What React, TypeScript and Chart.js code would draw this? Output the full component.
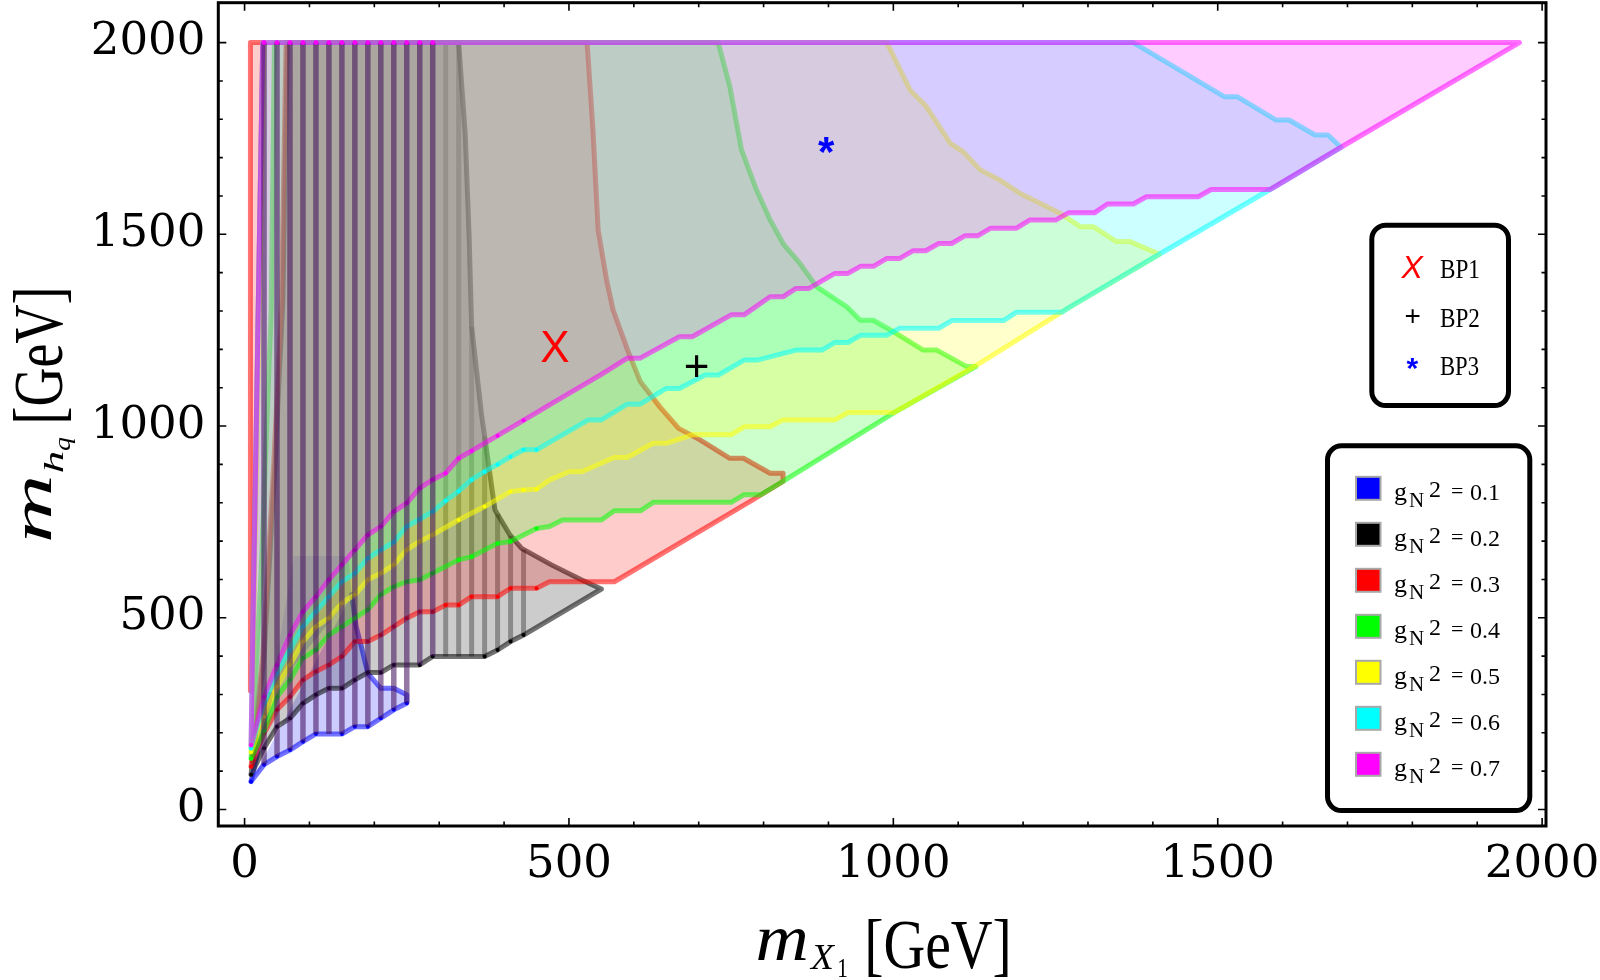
import React, { useEffect, useRef } from 'react';
import { Chart, registerables } from 'chart.js';

Chart.register(...registerables);

// ---------------- axes ----------------
const X_MIN = -40.5;
const X_MAX = 2006;
const Y_MIN = -43;
const Y_MAX = 2104;
const X_TICKS = [0, 500, 1000, 1500, 2000];
const Y_TICKS = [0, 500, 1000, 1500, 2000];
const MINOR_TICKS = [100, 200, 300, 400, 600, 700, 800, 900, 1100, 1200, 1300, 1400, 1600, 1700, 1800, 1900];

// ---------------- series meta ----------------
const G_LABELS = ['0.1', '0.2', '0.3', '0.4', '0.5', '0.6', '0.7'];
const G_RGB = ['0,0,255', '0,0,0', '255,0,0', '0,255,0', '255,255,0', '0,255,255', '255,0,255'];

// kinematic edge (m_hq ~ m_X1)
const DIAGONAL = [[250, 276], [430, 455], [550, 575], [570, 594], [782, 806], [830, 856], [1000, 1034], [1130, 1160], [1270, 1308], [1410, 1448], [1590, 1626], [1690, 1727], [1965, 2000]];

// g_N^2 = 0.1 (blue)
const BLUE_LOWER = [[10, 73], [30, 117], [50, 138], [70, 155], [90, 177], [110, 197], [150, 197], [170, 216], [190, 216], [210, 238], [230, 260], [250, 277]];
const BLUE_UPPER = [[160, 661], [165, 560], [172, 477], [180, 425], [190, 355], [210, 316], [230, 316], [250, 299]];
const BLUE_LEFT = [[76, 661], [40, 300], [10, 73]];

// g_N^2 = 0.2 (black)
const BLACK_LOWER = [[10, 91], [30, 160], [50, 216], [70, 238], [90, 277], [110, 299], [130, 316], [150, 316], [170, 338], [190, 357], [210, 357], [230, 377], [270, 377], [290, 399], [370, 399], [390, 416], [410, 438], [430, 455]];
const BLACK_UPPER = [[330, 2000], [340, 1763], [346, 1500], [350, 1259], [365, 1033], [386, 781], [409, 716], [427, 681], [473, 638], [519, 599], [550, 575]];
const BLACK_LEFT = [[66, 2000], [59, 1330], [47, 900], [30, 400], [10, 91]];

// g_N^2 = 0.3 (red)
const RED_LOWER = [[10, 112], [30, 199], [50, 260], [70, 294], [90, 338], [110, 360], [130, 377], [150, 399], [170, 438], [190, 438], [210, 455], [230, 477], [250, 499], [270, 516], [290, 516], [310, 533], [330, 533], [350, 555], [390, 555], [410, 577], [450, 577], [470, 594], [570, 594]];
const RED_UPPER = [[528, 2000], [537, 1772], [545, 1511], [558, 1381], [568, 1303], [590, 1200], [610, 1116], [640, 1050], [669, 994], [702, 964], [748, 916], [769, 916], [810, 877], [830, 877], [830, 856]];
const RED_LEFT = [[64, 2000], [57, 1330], [45, 900], [28, 400], [10, 112]];
const RED_SLIVER = [[9, 310], [9, 2000], [28, 2000], [21, 1300], [12, 310]];

// g_N^2 = 0.4 (green)
const GREEN_LOWER = [[10, 133], [30, 204], [50, 294], [70, 338], [90, 395], [110, 416], [130, 455], [150, 477], [170, 499], [190, 521], [210, 560], [230, 581], [250, 594], [270, 599], [290, 616], [330, 651], [350, 659], [390, 694], [410, 699], [450, 733], [470, 738], [490, 755], [550, 755], [570, 779], [610, 779], [630, 801], [750, 801], [770, 821], [796, 821]];
const GREEN_UPPER = [[730, 2000], [748, 1885], [766, 1720], [789, 1616], [810, 1538], [830, 1476], [856, 1424], [882, 1363], [928, 1311], [949, 1276], [969, 1276], [1000, 1246], [1046, 1198], [1067, 1198], [1113, 1155], [1127, 1155]];
const GREEN_LEFT = [[46, 2000], [41, 1300], [25, 600], [10, 133]];

// g_N^2 = 0.5 (yellow)
const YELLOW_LOWER = [[10, 150], [30, 242], [50, 321], [70, 377], [90, 438], [110, 477], [130, 499], [150, 538], [170, 560], [190, 599], [210, 616], [230, 638], [250, 677], [270, 699], [290, 716], [330, 755], [370, 790], [410, 829], [430, 833], [450, 835], [470, 859], [500, 881], [520, 881], [570, 918], [590, 918], [630, 955], [650, 955], [690, 977], [750, 977], [770, 998], [810, 998], [830, 1016], [910, 1016], [930, 1035], [1001, 1035]];
const YELLOW_UPPER = [[990, 2000], [1026, 1876], [1051, 1833], [1088, 1737], [1108, 1715], [1134, 1668], [1164, 1642], [1195, 1607], [1257, 1555], [1288, 1520], [1308, 1520], [1344, 1481], [1365, 1481], [1410, 1448]];
const YELLOW_LEFT = [[30, 2000], [23, 1300], [13, 400], [10, 150]];

// g_N^2 = 0.6 (cyan)
const CYAN_LOWER = [[10, 160], [30, 277], [50, 356], [70, 416], [90, 477], [110, 516], [130, 555], [150, 594], [170, 616], [190, 655], [210, 677], [230, 697], [250, 738], [270, 757], [290, 777], [310, 805], [330, 830], [350, 860], [370, 881], [390, 900], [410, 920], [430, 938], [450, 938], [530, 1016], [550, 1016], [590, 1057], [610, 1057], [650, 1098], [670, 1098], [710, 1133], [730, 1133], [770, 1172], [790, 1172], [850, 1198], [890, 1198], [910, 1218], [930, 1218], [950, 1237], [990, 1237], [1010, 1255], [1070, 1255], [1090, 1275], [1170, 1275], [1190, 1297], [1260, 1297]];
const CYAN_UPPER = [[1370, 2000], [1510, 1859], [1530, 1859], [1590, 1798], [1610, 1798], [1650, 1759], [1670, 1759], [1690, 1727]];
const CYAN_LEFT = [[28, 2000], [21, 1300], [12, 400], [10, 160]];

// g_N^2 = 0.7 (magenta)
const MAGENTA_LOWER = [[10, 168], [30, 294], [50, 377], [70, 455], [90, 516], [110, 555], [130, 599], [150, 638], [170, 677], [190, 716], [210, 738], [230, 777], [250, 799], [270, 838], [290, 860], [310, 877], [330, 916], [350, 935], [390, 975], [430, 1015], [470, 1055], [510, 1095], [550, 1135], [590, 1177], [610, 1177], [670, 1233], [690, 1233], [750, 1290], [770, 1290], [810, 1337], [830, 1337], [850, 1359], [870, 1359], [910, 1398], [930, 1398], [950, 1417], [970, 1417], [990, 1437], [1010, 1437], [1030, 1457], [1050, 1457], [1070, 1476], [1090, 1476], [1110, 1496], [1130, 1496], [1150, 1516], [1190, 1516], [1210, 1537], [1250, 1537], [1270, 1556], [1310, 1556], [1330, 1579], [1370, 1579], [1390, 1598], [1470, 1598], [1490, 1617], [1581, 1617]];
const MAGENTA_UPPER = [[1965, 2000]];
const MAGENTA_LEFT = [[28, 2000], [21, 1300], [12, 400], [10, 168]];

// vertical mesh lines
const PURPLE_MESH_X = [30, 50, 70, 90, 110, 130, 150, 170, 190, 210, 230, 250, 270, 290];
const PURPLE_MESH_LOW = [117, 138, 155, 177, 197, 197, 197, 216, 216, 238, 260, 277, 377, 399];
const GRAY_MESH_X = [310, 330, 350, 370, 390, 410, 430];
const GRAY_MESH_LOW = [399, 399, 399, 399, 416, 438, 455];
const GRAY_MESH_HIGH = [2000, 2000, 1259, 973, 770, 714, 678];

// benchmark points
const BP_LABELS = ['BP1', 'BP2', 'BP3'];
const BP_X = [478, 697, 897];
const BP_Y = [1207, 1157, 1733];
const BP_GLYPHS = ['X', '+', '*'];
const BP_COLORS = ['#ff0000', '#000000', '#0000ff'];

type Pt = { x: number; y: number | null; d?: number };

function buildPolygon(lower: number[][], upper: number[][], left: number[][]): Pt[] {
  const endX = lower[lower.length - 1][0];
  const upEndX = upper[upper.length - 1][0];
  const diag = DIAGONAL.filter(([x]) => x > endX && x < upEndX);
  const pts: Pt[] = [
    ...lower.map(([x, y]) => ({ x, y, d: x <= 450 ? 1 : 0 })),
    ...diag.map(([x, y]) => ({ x, y })),
    ...upper.slice().reverse().map(([x, y]) => ({ x, y })),
    ...left.map(([x, y]) => ({ x, y })),
  ];
  pts.push({ x: pts[0].x, y: pts[0].y });
  return pts;
}

function regionDataset(pts: Pt[], rgb: string) {
  return {
    type: 'line',
    data: pts,
    fill: 'shape',
    backgroundColor: `rgba(${rgb},0.2)`,
    borderColor: `rgba(${rgb},0.55)`,
    borderWidth: 5,
    borderJoinStyle: 'round',
    borderCapStyle: 'round',
    tension: 0,
    pointRadius: (c: any) => (c.raw && c.raw.d ? 2 : 0),
    pointBackgroundColor: `rgb(${rgb})`,
    pointBorderWidth: 0,
  };
}

function meshData(xs: number[], lows: number[], highs: number[] | null): Pt[] {
  const out: Pt[] = [];
  xs.forEach((x, i) => {
    out.push({ x, y: lows[i] });
    out.push({ x, y: highs ? highs[i] : 2000, d: highs ? 0 : 1 });
    out.push({ x, y: null });
  });
  return out;
}

// ---------------- text helpers ----------------
function fitText(ctx: CanvasRenderingContext2D, text: string, font: string, color: string,
  x: number, base: number, w: number, asc: number, ref: string, rotate = false) {
  ctx.save();
  ctx.font = font;
  ctx.textAlign = 'left';
  ctx.textBaseline = 'alphabetic';
  const m = ctx.measureText(text);
  const inkW = m.actualBoundingBoxLeft + m.actualBoundingBoxRight;
  const a = ctx.measureText(ref).actualBoundingBoxAscent;
  ctx.fillStyle = color;
  ctx.translate(x, base);
  if (rotate) ctx.rotate(-Math.PI / 2);
  ctx.scale(w / inkW, asc / a);
  ctx.fillText(text, m.actualBoundingBoxLeft, 0);
  ctx.restore();
}

function inkText(ctx: CanvasRenderingContext2D, text: string, font: string, color: string, x: number, base: number) {
  ctx.save();
  ctx.font = font;
  ctx.textAlign = 'left';
  ctx.textBaseline = 'alphabetic';
  ctx.fillStyle = color;
  const m = ctx.measureText(text);
  ctx.fillText(text, x + m.actualBoundingBoxLeft, base);
  ctx.restore();
}

function glyphCenter(ctx: CanvasRenderingContext2D, text: string, font: string, color: string, cx: number, cy: number) {
  ctx.save();
  ctx.font = font;
  ctx.textAlign = 'left';
  ctx.textBaseline = 'alphabetic';
  ctx.fillStyle = color;
  const m = ctx.measureText(text);
  const w = m.actualBoundingBoxLeft + m.actualBoundingBoxRight;
  const h = m.actualBoundingBoxAscent + m.actualBoundingBoxDescent;
  ctx.fillText(text, cx - w / 2 + m.actualBoundingBoxLeft, cy + h / 2 - m.actualBoundingBoxDescent);
  ctx.restore();
}

function roundRect(ctx: CanvasRenderingContext2D, x: number, y: number, w: number, h: number, r: number) {
  ctx.beginPath();
  ctx.moveTo(x + r, y);
  ctx.arcTo(x + w, y, x + w, y + h, r);
  ctx.arcTo(x + w, y + h, x, y + h, r);
  ctx.arcTo(x, y + h, x, y, r);
  ctx.arcTo(x, y, x + w, y, r);
  ctx.closePath();
}

const SERIF = '"Liberation Serif", serif';
const SANS = '"Liberation Sans", sans-serif';

const markerPlugin = {
  id: 'bpMarkers',
  afterDatasetsDraw(chart: any) {
    const ctx = chart.ctx;
    chart.data.datasets.forEach((ds: any, i: number) => {
      if (!ds.glyph) return;
      const el = chart.getDatasetMeta(i).data[0];
      if (!el) return;
      glyphCenter(ctx, ds.glyph, ds.glyphFont, ds.glyphColor, el.x, el.y);
    });
  },
};

const framePlugin = {
  id: 'frameAndDecor',
  afterDraw(chart: any) {
    const ctx: CanvasRenderingContext2D = chart.ctx;
    const { left, right, top, bottom } = chart.chartArea;
    const xs = chart.scales.x;
    const ys = chart.scales.y;
    ctx.save();
    ctx.strokeStyle = '#000';
    ctx.lineWidth = 1.6;
    const tick = (vals: number[], len: number) => {
      vals.forEach((v) => {
        const px = xs.getPixelForValue(v);
        ctx.beginPath();
        ctx.moveTo(px, bottom); ctx.lineTo(px, bottom - len);
        ctx.moveTo(px, top); ctx.lineTo(px, top + len);
        ctx.stroke();
        const py = ys.getPixelForValue(v);
        ctx.beginPath();
        ctx.moveTo(left, py); ctx.lineTo(left + len, py);
        ctx.moveTo(right, py); ctx.lineTo(right - len, py);
        ctx.stroke();
      });
    };
    tick(X_TICKS, 8);
    tick(MINOR_TICKS, 4.5);
    ctx.lineWidth = 3;
    ctx.strokeRect(left, top, right - left, bottom - top);
    ctx.restore();

    // x title: m_{X_1} [GeV]
    fitText(ctx, 'm', `italic 60px ${SERIF}`, '#000', 758, 960, 48, 29, 'x');
    fitText(ctx, 'X', `italic 36px ${SERIF}`, '#000', 809, 969, 27, 24, 'X');
    fitText(ctx, '1', `24px ${SERIF}`, '#000', 839, 977, 8, 17, '1');
    fitText(ctx, '[GeV]', `60px ${SERIF}`, '#000', 868, 968, 140, 46, 'G');

    // y title: m_{h_q} [GeV] (rotated)
    fitText(ctx, 'm', `italic 60px ${SERIF}`, '#000', 51, 540, 62, 26, 'x', true);
    fitText(ctx, 'h', `italic 32px ${SERIF}`, '#000', 63, 472, 20, 19, 'h', true);
    fitText(ctx, 'q', `italic 26px ${SERIF}`, '#000', 70, 451, 14, 11, 'x', true);
    fitText(ctx, '[GeV]', `60px ${SERIF}`, '#000', 62, 421, 131, 45, 'G', true);

    // legend boxes
    ctx.save();
    ctx.lineWidth = 5;
    ctx.strokeStyle = '#000';
    ctx.fillStyle = '#fff';
    roundRect(ctx, 1371.8, 225.2, 136.7, 180.3, 14);
    ctx.fill();
    ctx.stroke();
    roundRect(ctx, 1327.5, 445.8, 202.3, 364.7, 14);
    ctx.fill();
    ctx.stroke();
    ctx.restore();

    const bpRows = [266.7, 316, 364];
    const bpFonts = [`italic 32px ${SANS}`, `28px ${SANS}`, `bold 30px ${SANS}`];
    BP_LABELS.forEach((lab, i) => {
      glyphCenter(ctx, BP_GLYPHS[i], bpFonts[i], BP_COLORS[i], 1412.5, bpRows[i]);
      fitText(ctx, lab, `24px ${SERIF}`, '#000', 1440, bpRows[i] + 11, 39, 17.5, 'B');
    });

    G_LABELS.forEach((lab, i) => {
      const c = 488.3 + 46 * i;
      ctx.save();
      ctx.fillStyle = '#a8a8a8';
      ctx.fillRect(1355, c - 12.5, 26.5, 25);
      ctx.fillStyle = `rgb(${G_RGB[i]})`;
      ctx.fillRect(1357, c - 10.5, 22.5, 21);
      ctx.restore();
      inkText(ctx, 'g', `26px ${SERIF}`, '#000', 1395, c + 12);
      inkText(ctx, 'N', `21px ${SERIF}`, '#000', 1409, c + 18.5);
      inkText(ctx, '2', `24px ${SERIF}`, '#000', 1430, c + 8.5);
      inkText(ctx, '=', `22px ${SERIF}`, '#000', 1452, c + 10);
      inkText(ctx, lab, `24px ${SERIF}`, '#000', 1470, c + 12);
    });
  },
};

export default function App() {
  const ref = useRef<HTMLCanvasElement>(null);

  useEffect(() => {
    document.body.style.margin = '0';
    const canvas = ref.current;
    if (!canvas) return;

    const layers: any[] = [];
    const blue = regionDataset(buildPolygon(BLUE_LOWER, BLUE_UPPER, BLUE_LEFT), G_RGB[0]) as any;
    blue.segment = {
      borderColor: (c: any) => {
        const a = c.p0.parsed, b = c.p1.parsed;
        if (Math.min(a.y, b.y) >= 480 || (a.x <= 76 && b.x <= 76 && Math.max(a.y, b.y) > 300)) return 'rgba(0,0,0,0)';
        return undefined;
      },
    };
    layers.push(blue);
    layers.push(regionDataset(buildPolygon(BLACK_LOWER, BLACK_UPPER, BLACK_LEFT), G_RGB[1]));
    layers.push({
      type: 'line',
      data: meshData(GRAY_MESH_X, GRAY_MESH_LOW, GRAY_MESH_HIGH),
      borderColor: 'rgba(0,0,0,0.32)',
      borderWidth: 5,
      fill: false,
      pointRadius: 0,
      tension: 0,
    });
    layers.push(regionDataset(buildPolygon(RED_LOWER, RED_UPPER, RED_LEFT), G_RGB[2]));
    layers.push(regionDataset([...RED_SLIVER, RED_SLIVER[0]].map(([x, y]) => ({ x, y })), G_RGB[2]));
    layers.push(regionDataset(buildPolygon(GREEN_LOWER, GREEN_UPPER, GREEN_LEFT), G_RGB[3]));
    layers.push(regionDataset(buildPolygon(YELLOW_LOWER, YELLOW_UPPER, YELLOW_LEFT), G_RGB[4]));
    layers.push(regionDataset(buildPolygon(CYAN_LOWER, CYAN_UPPER, CYAN_LEFT), G_RGB[5]));
    layers.push(regionDataset(buildPolygon(MAGENTA_LOWER, MAGENTA_UPPER, MAGENTA_LEFT), G_RGB[6]));
    layers.push({
      type: 'line',
      data: meshData(PURPLE_MESH_X, PURPLE_MESH_LOW, null),
      borderColor: 'rgba(60,10,90,0.55)',
      borderWidth: 5.5,
      fill: false,
      tension: 0,
      pointRadius: (c: any) => (c.raw && c.raw.d ? 2.4 : 0),
      pointBackgroundColor: 'rgb(255,0,255)',
      pointBorderWidth: 0,
    });
    BP_LABELS.forEach((lab, i) => {
      layers.push({
        type: 'line',
        label: lab,
        data: [{ x: BP_X[i], y: BP_Y[i] }],
        showLine: false,
        pointRadius: 0,
        glyph: BP_GLYPHS[i],
        glyphColor: BP_COLORS[i],
        glyphFont: [`44px ${SANS}`, `44px ${SANS}`, `bold 42px ${SANS}`][i],
      });
    });
    layers.forEach((d, i) => { d.order = 1000 - i; });

    const tickFont = { family: '"DejaVu Serif", serif', size: 45 };

    const chart = new Chart(canvas, {
      type: 'line',
      data: { datasets: layers },
      options: {
        animation: false,
        responsive: false,
        maintainAspectRatio: false,
        events: [],
        layout: { autoPadding: false, padding: { left: 0, top: 2.7, right: 54, bottom: 0 } },
        plugins: {
          legend: { display: false },
          tooltip: { enabled: false },
          filler: { drawTime: 'beforeDatasetDraw' },
        },
        scales: {
          x: {
            type: 'linear',
            min: X_MIN,
            max: X_MAX,
            grid: { display: false, drawTicks: false },
            border: { display: false },
            afterBuildTicks: (s: any) => { s.ticks = X_TICKS.map((v) => ({ value: v })); },
            afterFit: (s: any) => { s.height = 154; s.paddingLeft = 0; s.paddingRight = 0; },
            ticks: { font: tickFont, color: '#000', padding: 12, maxRotation: 0, autoSkip: false, callback: (v: any) => String(v) },
          },
          y: {
            type: 'linear',
            min: Y_MIN,
            max: Y_MAX,
            grid: { display: false, drawTicks: false },
            border: { display: false },
            afterBuildTicks: (s: any) => { s.ticks = Y_TICKS.map((v) => ({ value: v })); },
            afterFit: (s: any) => { s.width = 218.3; s.paddingTop = 0; s.paddingBottom = 0; },
            ticks: { font: tickFont, color: '#000', padding: 13, autoSkip: false, callback: (v: any) => String(v) },
          },
        },
      } as any,
      plugins: [markerPlugin, framePlugin],
    } as any);

    return () => chart.destroy();
  }, []);

  return (
    <div style={{ width: 1600, height: 980, position: 'relative', background: '#fff' }}>
      <canvas ref={ref} width={1600} height={980} style={{ display: 'block', width: 1600, height: 980 }} />
    </div>
  );
}
